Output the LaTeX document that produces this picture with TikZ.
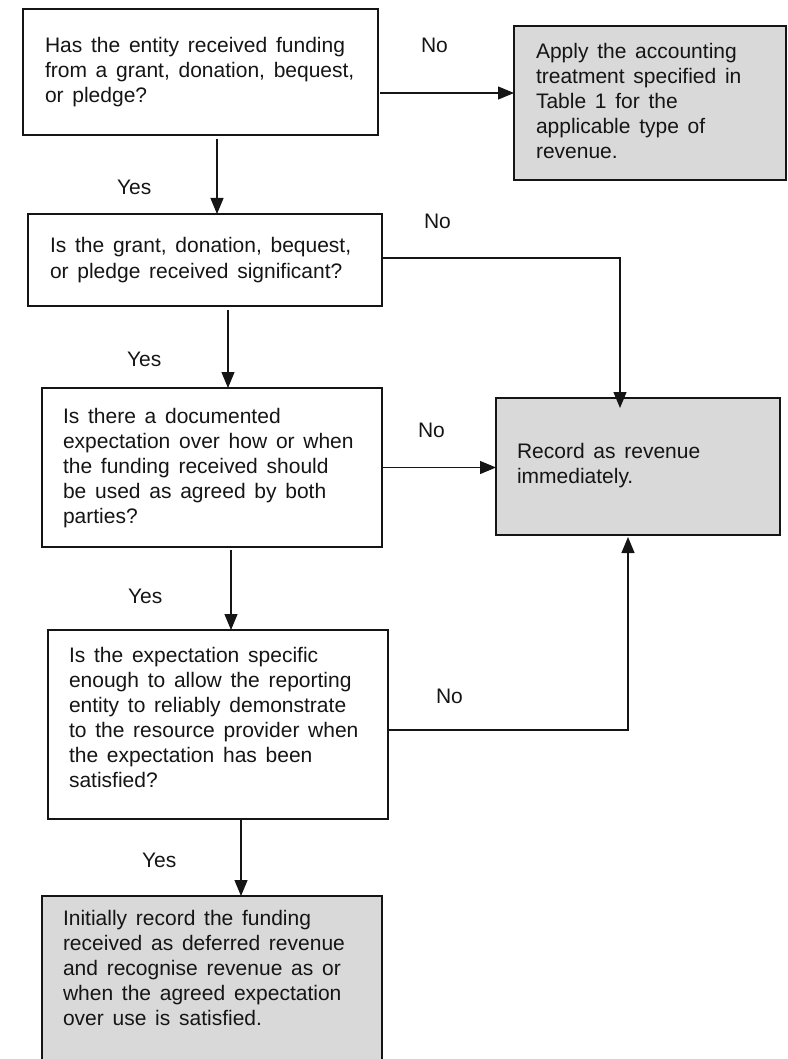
\documentclass[tikz,border=0pt]{standalone}
\usepackage{fontspec}
\setmainfont[WordSpace=1.5]{Liberation Sans}
\usetikzlibrary{arrows.meta}
\definecolor{boxgray}{HTML}{D9D9D9}
\definecolor{ink}{HTML}{151515}
\newcommand{\btext}[1]{\parbox[t]{330pt}{\raggedright #1}}
\begin{document}
\begin{tikzpicture}[x=1pt,y=-1pt,
  every node/.style={inner sep=0pt, outer sep=0pt, font=\fontsize{21}{25}\selectfont, text=ink},
  box/.style={draw=ink, line width=1.2pt, rectangle, anchor=north west, fill=white},
  graybox/.style={box, fill=boxgray},
  txt/.style={anchor=base west},
  lbl/.style={anchor=base west},
  arr/.style={draw=ink, line width=1.2pt, -{Triangle[length=16pt,width=13pt]}},
  conn/.style={draw=ink, line width=1.2pt}
]
\useasboundingbox (0,0) rectangle (787,1059);
\clip (0,0) rectangle (787,1059);

% boxes
\node[box, minimum width=355pt, minimum height=126pt] (b1) at (23,9) {};
\node[graybox, minimum width=272pt, minimum height=154pt] (b2) at (514,26) {};
\node[box, minimum width=354pt, minimum height=92pt] (b3) at (28,214) {};
\node[graybox, minimum width=284pt, minimum height=137pt] (b4) at (496,398) {};
\node[box, minimum width=340pt, minimum height=159pt] (b5) at (42,388) {};
\node[box, minimum width=340pt, minimum height=189pt] (b6) at (48,630) {};
\node[graybox, minimum width=340pt, minimum height=190pt] (b7) at (42,896) {};

% texts
\node[txt] (t1) at (45,53) {\btext{Has the entity received funding\\from a grant, donation, bequest,\\or pledge?}};
\node[txt] (t2) at (536,59) {\btext{Apply the accounting\\treatment specified in\\Table 1 for the\\applicable type of\\revenue.}};
\node[txt] (t3) at (50,252) {\btext{Is the grant, donation, bequest,\\[1pt]or pledge received significant?}};
\node[txt] (t4) at (517,458) {\btext{Record as revenue\\immediately.}};
\node[txt] (t5) at (63,423) {\btext{Is there a documented\\expectation over how or when\\the funding received should\\be used as agreed by both\\parties?}};
\node[txt] (t6) at (69,662) {\btext{Is the expectation specific\\enough to allow the reporting\\entity to reliably demonstrate\\to the resource provider when\\the expectation has been\\satisfied?}};
\node[txt] (t7) at (63,925) {\btext{Initially record the funding\\received as deferred revenue\\and recognise revenue as or\\when the agreed expectation\\over use is satisfied.}};

% labels
\node[lbl] (n1) at (421,53) {No};
\node[lbl] (y1) at (117,195) {Yes};
\node[lbl] (n2) at (424,229) {No};
\node[lbl] (y2) at (127,366) {Yes};
\node[lbl] (n3) at (418,437) {No};
\node[lbl] (y3) at (128,603) {Yes};
\node[lbl] (n4) at (436,703) {No};
\node[lbl] (y4) at (142,867) {Yes};

% connectors
\draw[arr, shorten <=2pt] ([yshift=-21pt]b1.east) -- ([yshift=-21pt]b1.east -| b2.west);
\draw[arr, shorten <=4pt] ([xshift=16.5pt]b1.south) -- ([xshift=16.5pt]b1.south |- b3.north);
\draw[arr] ([yshift=2pt]b3.east) -| ([xshift=-18pt,yshift=-10pt]b4.north);
\draw[arr, shorten <=4pt] ([xshift=23pt]b3.south) -- ([xshift=23pt]b3.south |- b5.north);
\draw[arr] (b5.east) -- (b5.east -| b4.west);
\draw[arr, shorten <=3pt] ([xshift=19pt]b5.south) -- ([xshift=19pt]b5.south |- b6.north);
\draw[arr] ([yshift=-5.5pt]b6.east) -| ([xshift=-10pt,yshift=-2pt]b4.south);
\draw[arr] ([xshift=23pt]b6.south) -- ([xshift=23pt]b6.south |- b7.north);
\end{tikzpicture}
\end{document}
